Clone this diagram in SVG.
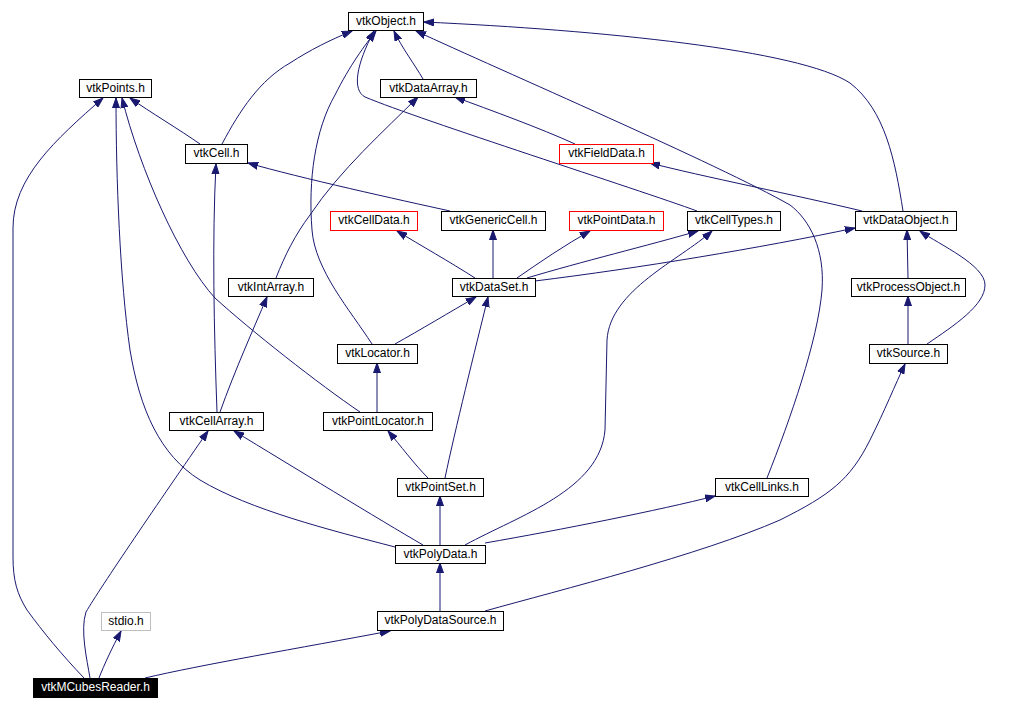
<svg xmlns="http://www.w3.org/2000/svg" width="1018" height="709" viewBox="0 0 1018 709">
<style>
.n rect{fill:#fff;stroke:#000;stroke-width:1}
.n text{font-family:"Liberation Sans",Arial,sans-serif;font-size:12px;fill:#000;text-anchor:middle}
.red rect{stroke:#ff0000}
.gray rect{stroke:#bfbfbf}
.root rect{fill:#000;stroke:#000}
.root text{fill:#fff}
#edges path{fill:none;stroke:#191970;stroke-width:1;marker-end:url(#arr)}
</style>
<defs>
<marker id="arr" markerUnits="userSpaceOnUse" markerWidth="11" markerHeight="8" refX="10" refY="4" orient="auto">
<path d="M0,0.5 L10,4 L0,7.5 z" fill="#191970" stroke="#191970" stroke-width="1"/>
</marker>
</defs>
<rect width="1018" height="709" fill="#fff"/>
<g id="edges">
<path d="M84,678 C62,655 43,632 27,610 C17,594 13,580 13,557 L13,228 C13,178 55,140 103,98"/>
<path d="M90,678 C87,660 80,630 86,612 C100,588 160,500 208,431"/>
<path d="M99,678 C104,665 112,648 121,631"/>
<path d="M145,678 C200,665 300,648 390,631"/>
<path d="M440,611 L440,563"/>
<path d="M485,611 C560,590 700,555 780,520 C830,495 850,480 870,440 C885,410 895,385 905,364"/>
<path d="M440,545 L440,496"/>
<path d="M423,545 C380,520 290,465 234,431"/>
<path d="M395,547 C330,530 250,510 200,480 C160,455 140,410 130,350 C120,280 116,180 116,98"/>
<path d="M465,545 C520,515 600,490 605,430 L607,340 C610,290 680,260 712,231"/>
<path d="M485,543 C560,530 660,510 715,496"/>
<path d="M767,478 C790,420 818,340 822,290 C825,250 810,220 790,205 C720,165 500,70 416,31"/>
<path d="M445,478 C455,430 475,350 488,297"/>
<path d="M428,478 C415,465 400,445 388,431"/>
<path d="M377,412 L377,363"/>
<path d="M360,412 C320,385 250,330 215,298 C180,260 140,170 122,98"/>
<path d="M395,344 C420,330 450,312 476,297"/>
<path d="M372,344 C350,310 315,270 312,230 C308,180 315,130 335,95 C350,65 365,45 376,31"/>
<path d="M475,278 C450,262 420,245 397,231"/>
<path d="M493,278 L493,230"/>
<path d="M517,278 C540,262 565,245 590,231"/>
<path d="M527,278 C580,262 650,245 698,231"/>
<path d="M535,281 C640,268 760,248 855,228"/>
<path d="M450,211 C400,200 300,178 248,163"/>
<path d="M697,211 C640,190 420,120 365,97 C352,90 356,65 374,31"/>
<path d="M903,211 C895,160 885,110 850,83 C800,50 600,30 424,22"/>
<path d="M862,211 C800,196 700,176 650,163"/>
<path d="M575,144 C540,128 490,110 455,97"/>
<path d="M423,79 C415,65 402,48 394,31"/>
<path d="M276,278 C285,255 295,235 310,215 C340,170 385,130 418,97"/>
<path d="M220,412 C235,370 253,330 267,297"/>
<path d="M217,412 C214,330 212,240 216,164"/>
<path d="M200,144 C180,130 150,112 130,98"/>
<path d="M222,144 C240,110 260,80 290,63 C310,50 330,40 352,31"/>
<path d="M908,278 L907,230"/>
<path d="M908,344 L908,296"/>
<path d="M927,344 C955,325 985,305 985,285 C985,265 940,245 920,231"/>
</g>
<g id="vtkObject" class="n"><rect x="348.5" y="12.5" width="75" height="18"/><text x="386" y="25">vtkObject.h</text></g>
<g id="vtkPoints" class="n"><rect x="79.5" y="79.5" width="72" height="18"/><text x="115.5" y="92">vtkPoints.h</text></g>
<g id="vtkDataArray" class="n"><rect x="380.5" y="79.5" width="96" height="18"/><text x="428.5" y="92">vtkDataArray.h</text></g>
<g id="vtkCell" class="n"><rect x="185.5" y="144.5" width="62" height="19"/><text x="216.5" y="157">vtkCell.h</text></g>
<g id="vtkFieldData" class="n red"><rect x="559.5" y="144.5" width="94" height="19"/><text x="606.5" y="157">vtkFieldData.h</text></g>
<g id="vtkCellData" class="n red"><rect x="330.5" y="211.5" width="87" height="19"/><text x="374" y="224">vtkCellData.h</text></g>
<g id="vtkGenericCell" class="n"><rect x="441.5" y="211.5" width="104" height="19"/><text x="493.5" y="224">vtkGenericCell.h</text></g>
<g id="vtkPointData" class="n red"><rect x="569.5" y="211.5" width="94" height="19"/><text x="616.5" y="224">vtkPointData.h</text></g>
<g id="vtkCellTypes" class="n"><rect x="687.5" y="211.5" width="93" height="19"/><text x="734" y="224">vtkCellTypes.h</text></g>
<g id="vtkDataObject" class="n"><rect x="855.5" y="211.5" width="101" height="19"/><text x="906" y="224">vtkDataObject.h</text></g>
<g id="vtkIntArray" class="n"><rect x="228.5" y="278.5" width="85" height="18"/><text x="271" y="291">vtkIntArray.h</text></g>
<g id="vtkDataSet" class="n"><rect x="452.5" y="278.5" width="83" height="18"/><text x="494" y="291">vtkDataSet.h</text></g>
<g id="vtkProcessObject" class="n"><rect x="851.5" y="278.5" width="114" height="18"/><text x="908.5" y="291">vtkProcessObject.h</text></g>
<g id="vtkLocator" class="n"><rect x="337.5" y="344.5" width="80" height="19"/><text x="377.5" y="357">vtkLocator.h</text></g>
<g id="vtkSource" class="n"><rect x="869.5" y="344.5" width="78" height="19"/><text x="908.5" y="357">vtkSource.h</text></g>
<g id="vtkCellArray" class="n"><rect x="169.5" y="412.5" width="94" height="18"/><text x="216.5" y="425">vtkCellArray.h</text></g>
<g id="vtkPointLocator" class="n"><rect x="323.5" y="412.5" width="109" height="18"/><text x="378" y="425">vtkPointLocator.h</text></g>
<g id="vtkPointSet" class="n"><rect x="397.5" y="478.5" width="86" height="18"/><text x="440.5" y="491">vtkPointSet.h</text></g>
<g id="vtkCellLinks" class="n"><rect x="715.5" y="478.5" width="93" height="18"/><text x="762" y="491">vtkCellLinks.h</text></g>
<g id="vtkPolyData" class="n"><rect x="395.5" y="545.5" width="90" height="18"/><text x="440.5" y="558">vtkPolyData.h</text></g>
<g id="stdio" class="n gray"><rect x="101.5" y="612.5" width="49" height="18"/><text x="126" y="625">stdio.h</text></g>
<g id="vtkPolyDataSource" class="n"><rect x="377.5" y="611.5" width="126" height="19"/><text x="440.5" y="624">vtkPolyDataSource.h</text></g>
<g id="vtkMCubesReader" class="n root"><rect x="33.5" y="678.5" width="124" height="19"/><text x="95.5" y="691">vtkMCubesReader.h</text></g>
</svg>
